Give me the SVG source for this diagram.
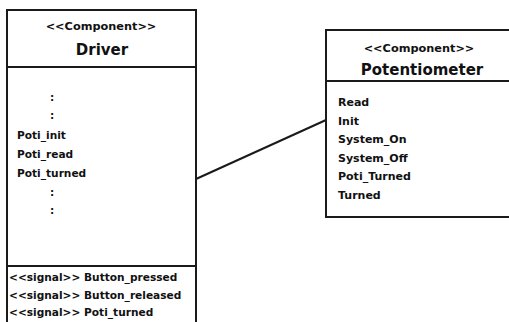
<svg xmlns="http://www.w3.org/2000/svg" width="509" height="322" viewBox="0 0 509 322">
<style>
.box{fill:#fff;stroke:#1a1a1a;stroke-width:2}
.sep{stroke:#1a1a1a;stroke-width:2}
.st{font-family:"DejaVu Sans",sans-serif;font-weight:bold;font-size:11.3px;fill:#111;text-anchor:middle}
.nm{font-family:"DejaVu Sans",sans-serif;font-weight:bold;font-size:15px;fill:#111;text-anchor:middle}
.mb{font-family:"DejaVu Sans",sans-serif;font-weight:bold;font-size:10.6px;fill:#111}
.pm{font-family:"DejaVu Sans",sans-serif;font-weight:bold;font-size:11px;fill:#111}
.conn{stroke:#1a1a1a;stroke-width:2;fill:none}
</style>
<g id="connectors">
<line class="conn" x1="196" y1="179" x2="326" y2="120"/>
</g>
<g id="driver">
<rect class="box" x="7" y="10" width="189" height="320"/>
<line class="sep" x1="7" y1="67" x2="196" y2="67"/>
<line class="sep" x1="7" y1="266" x2="196" y2="266"/>
<text class="st" x="101" y="30">&lt;&lt;Component&gt;&gt;</text>
<text class="nm" x="102" y="55">Driver</text>
<text class="mb" x="50" y="101">:</text>
<text class="mb" x="50" y="119">:</text>
<text class="mb" x="17" y="139">Poti_init</text>
<text class="mb" x="17" y="158">Poti_read</text>
<text class="mb" x="17" y="177">Poti_turned</text>
<text class="mb" x="50" y="196">:</text>
<text class="mb" x="50" y="214">:</text>
<text class="mb" x="9" y="281">&lt;&lt;signal&gt;&gt; Button_pressed</text>
<text class="mb" x="9" y="299">&lt;&lt;signal&gt;&gt; Button_released</text>
<text class="mb" x="9" y="316">&lt;&lt;signal&gt;&gt; Poti_turned</text>
</g>
<g id="potentiometer">
<rect class="box" x="326" y="30" width="200" height="187"/>
<line class="sep" x1="326" y1="81" x2="526" y2="81"/>
<text class="st" x="419" y="52">&lt;&lt;Component&gt;&gt;</text>
<text class="nm" x="422" y="75">Potentiometer</text>
<text class="pm" x="338" y="106">Read</text>
<text class="pm" x="338" y="124.6">Init</text>
<text class="pm" x="338" y="143.2">System_On</text>
<text class="pm" x="338" y="161.8">System_Off</text>
<text class="pm" x="338" y="180.4">Poti_Turned</text>
<text class="pm" x="338" y="199">Turned</text>
</g>
</svg>
